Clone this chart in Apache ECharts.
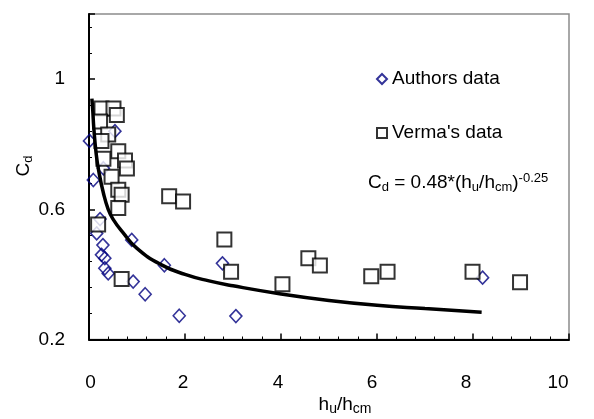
<!DOCTYPE html>
<html><head><meta charset="utf-8">
<script src="https://cdn.jsdelivr.net/npm/echarts@6/dist/echarts.min.js"></script>
<style>html,body{margin:0;padding:0;background:#fff}#c{width:594px;height:419px}</style>
</head><body><div id="c"></div>
<script>
// Authors data (diamonds)
const authorsX = [0.01, 0.09, 0.54, 0.30, 0.23, 0.16, 0.89, 0.29, 0.26, 0.33, 0.33, 0.40, 0.92, 1.17, 1.57, 1.88, 2.78, 3.06, 8.20];
const authorsY = [0.81, 0.69, 0.84, 0.726, 0.57, 0.526, 0.506, 0.49, 0.46, 0.45, 0.419, 0.403, 0.378, 0.339, 0.428, 0.273, 0.434, 0.272, 0.39];
// Verma's data (squares)
const vermaX = [0.26, 0.51, 0.58, 0.23, 0.40, 0.26, 0.61, 0.30, 0.75, 0.79, 0.47, 0.61, 0.68, 0.61, 0.19, 0.68, 1.67, 1.96, 2.82, 2.96, 4.03, 4.57, 4.81, 5.88, 6.22, 7.99, 8.98];
const vermaY = [0.91, 0.91, 0.89, 0.87, 0.83, 0.81, 0.778, 0.755, 0.75, 0.725, 0.70, 0.66, 0.645, 0.604, 0.553, 0.386, 0.64, 0.624, 0.507, 0.408, 0.37, 0.45, 0.427, 0.394, 0.408, 0.408, 0.376];
// Fitted curve Cd = 0.48*(hu/hcm)^-0.25
const fitX = [0.06, 0.08, 0.1, 0.15, 0.2, 0.3, 0.4, 0.5, 0.7, 1, 1.5, 2, 2.5, 3, 4, 5, 6, 7, 8.18];
const fitY = [0.94, 0.90, 0.85, 0.77, 0.72, 0.65, 0.60, 0.57, 0.53, 0.48, 0.43, 0.40, 0.38, 0.365, 0.34, 0.32, 0.305, 0.295, 0.284];
// Axis tick labels
const xTicks = [0, 2, 4, 6, 8, 10];
const yTicks = [0.2, 0.6, 1];

const F = 'Arial, "Liberation Sans", sans-serif';
const zip = (a, b) => a.map((v, i) => [v, b[i]]);
const near = (v, arr) => arr.some(t => Math.abs(t - v) < 1e-6);

// small horizontal nudges of the x tick labels (as laid out in the original)
const xNudge = { 0: 1.5, 2: -2, 4: -3, 6: -5, 8: -7, 10: -11 };
const xRich = {};
Object.keys(xNudge).forEach(k => {
  const s = xNudge[k];
  xRich['l' + k] = { fontSize: 19, fontFamily: F, color: '#000',
    padding: s >= 0 ? [0, 0, 0, 2 * s] : [0, -2 * s, 0, 0] };
});

const chart = echarts.init(document.getElementById('c'));
chart.setOption({
  animation: false,
  grid: { left: 89, top: 14, width: 480, height: 325.5, show: true, borderColor: '#8c8c8c', borderWidth: 1.5, backgroundColor: 'transparent' },
  xAxis: {
    type: 'value', min: 0, max: 10, interval: 2,
    axisLine: { show: true, onZero: false, lineStyle: { color: '#000', width: 2 } },
    axisTick: { show: true, inside: true, length: 6, lineStyle: { color: '#000', width: 1.5 } },
    minorTick: { show: true, splitNumber: 5, length: 3, lineStyle: { color: '#000', width: 1 } },
    splitLine: { show: false }, minorSplitLine: { show: false },
    axisLabel: { color: '#000', fontSize: 19, fontFamily: F, margin: 34, rich: xRich,
      formatter: v => { const t = xTicks.find(x => Math.abs(x - v) < 1e-6); return t === undefined ? '' : '{l' + t + '|' + t + '}'; } }
  },
  yAxis: {
    type: 'value', min: 0.2, max: 1.2, interval: 0.4,
    axisLine: { show: true, onZero: false, lineStyle: { color: '#000', width: 2 } },
    axisTick: { show: true, inside: true, length: 6, lineStyle: { color: '#000', width: 1.5 } },
    minorTick: { show: true, splitNumber: 5, length: 3, lineStyle: { color: '#000', width: 1 } },
    splitLine: { show: false }, minorSplitLine: { show: false },
    axisLabel: { color: '#000', fontSize: 19, fontFamily: F, margin: 24, formatter: v => near(v, yTicks) ? String(Math.round(v * 10) / 10) : '' }
  },
  legend: {
    orient: 'vertical', left: 371, top: 64, itemWidth: 10, itemHeight: 10, itemGap: 34,
    textStyle: { fontSize: 19, fontFamily: F, color: '#000', lineHeight: 20 },
    data: [{ name: 'Authors data', icon: 'diamond' }, { name: "Verma's data", icon: 'rect' }]
  },
  series: [
    { name: 'Authors data', type: 'scatter', z: 2, symbol: 'diamond', symbolSize: [12, 13], data: zip(authorsX, authorsY),
      itemStyle: { color: 'rgba(255,255,255,0)', borderColor: '#000080', borderWidth: 1.6 } },
    { name: "Verma's data", type: 'scatter', z: 3, symbol: 'rect', symbolSize: 14, data: zip(vermaX, vermaY),
      itemStyle: { color: '#fff', borderColor: '#000', borderWidth: 2 } },
    { name: 'fit', type: 'line', z: 4, smooth: true, showSymbol: false, symbol: 'none', data: zip(fitX, fitY),
      lineStyle: { color: '#000', width: 3.5 } }
  ],
  graphic: [
    { type: 'text', left: 368, top: 172, z: 10, style: {
        text: '{n|C}{s|d}{n| = 0.48*(h}{s|u}{n|/h}{s|cm}{n|)}{p|-0.25}',
        rich: { n: { fontSize: 19, fontFamily: F, fill: '#000' },
                s: { fontSize: 13, fontFamily: F, fill: '#000', padding: [9, 0, 0, 0] },
                p: { fontSize: 13, fontFamily: F, fill: '#000', padding: [0, 0, 9, 0] } } } },
    { type: 'text', x: 24, y: 166, rotation: Math.PI / 2, z: 10, style: {
        text: '{n|C}{s|d}', align: 'center', verticalAlign: 'middle',
        rich: { n: { fontSize: 19, fontFamily: F, fill: '#000' },
                s: { fontSize: 13, fontFamily: F, fill: '#000', padding: [9, 0, 0, 0] } } } },
    { type: 'text', x: 345, y: 405, z: 10, style: {
        text: '{n|h}{s|u}{n|/h}{s|cm}', align: 'center', verticalAlign: 'middle',
        rich: { n: { fontSize: 19, fontFamily: F, fill: '#000' },
                s: { fontSize: 14, fontFamily: F, fill: '#000', padding: [9, 0, 0, 0] } } } }
  ]
});
</script></body></html>
